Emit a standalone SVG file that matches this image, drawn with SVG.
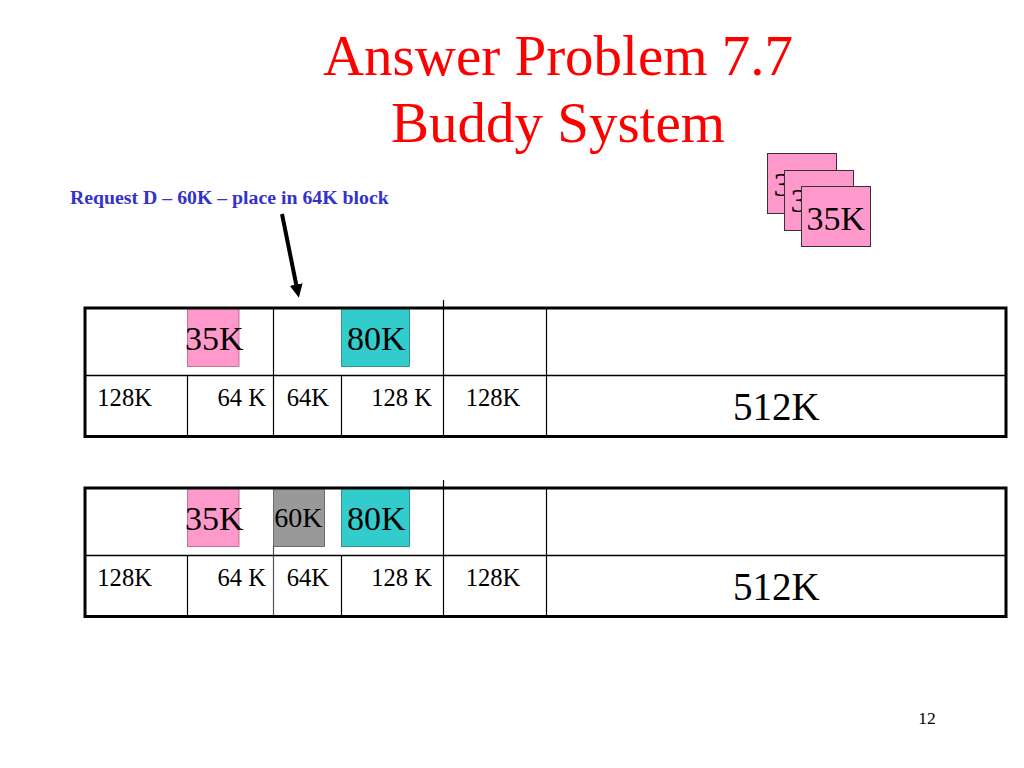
<svg xmlns="http://www.w3.org/2000/svg" width="1024" height="768" viewBox="0 0 1024 768">
  <style>
    text { font-family: "Liberation Serif", "Times New Roman", serif; fill: #000; }
    .title { font-size: 57px; fill: #FF0000; text-anchor: middle; }
    .req { font-size: 19.8px; font-weight: bold; fill: #3333CC; }
    .lbl { font-size: 24.6px; }
    .big { font-size: 39px; text-anchor: middle; }
    .blk { font-size: 34px; }
    .small { font-size: 28px; }
    .pg { font-size: 17.5px; }
    .end { text-anchor: end; }
    .pink { fill: #FF99CC; stroke: #B0607A; stroke-width: 0.8; }
    .teal { fill: #33CCCC; stroke: #207F7F; stroke-width: 0.8; }
    .gray { fill: #999999; stroke: #555; stroke-width: 0.8; }
    .stack { fill: #FF99CC; stroke: #333; stroke-width: 1; }
    .outer { fill: none; stroke: #000; stroke-width: 3; }
    .grid { stroke: #000; stroke-width: 1.2; fill: none; }
    .mid { stroke: #000; stroke-width: 1.6; }
  </style>
  <defs>
    <marker id="head" markerUnits="userSpaceOnUse" markerWidth="14" markerHeight="14" refX="0.5" refY="7" orient="auto">
      <path d="M0,0.5 L13.5,7 L0,13.5 z" fill="#000"/>
    </marker>
  </defs>

  <rect width="1024" height="768" fill="#fff"/>

  <g id="title">
    <text class="title" x="558" y="75">Answer Problem 7.7</text>
    <text class="title" x="558" y="141.7">Buddy System</text>
  </g>

  <g id="request-label">
    <text class="req" x="70" y="204">Request D – 60K – place in 64K block</text>
  </g>

  <g id="stack">
    <rect class="stack" x="767.5" y="153.5" width="69" height="60"/>
    <text class="blk" x="773.5" y="195.5">3</text>
    <rect class="stack" x="784.5" y="170.5" width="69" height="60"/>
    <text class="blk" x="790.5" y="212">3</text>
    <rect class="stack" x="801.5" y="186.5" width="69" height="60"/>
    <text class="blk" x="806.5" y="230">35K</text>
  </g>

  <g id="table1">
    <rect class="pink" x="187.5" y="308.5" width="51.5" height="58"/>
    <rect class="teal" x="341.5" y="308.5" width="68" height="58"/>
    <line class="grid" x1="443.5" y1="300" x2="443.5" y2="437"/>
    <line class="grid" x1="187.5" y1="375" x2="187.5" y2="437"/>
    <line class="grid" x1="273.5" y1="307" x2="273.5" y2="437"/>
    <line class="grid" x1="341.5" y1="375" x2="341.5" y2="437"/>
    <line class="grid" x1="546.5" y1="307" x2="546.5" y2="437"/>
    <line class="mid" x1="84" y1="375.5" x2="1007" y2="375.5"/>
    <rect class="outer" x="85" y="308" width="921" height="128.5"/>
    <text class="blk" x="185" y="350">35K</text>
    <text class="blk" x="347" y="350">80K</text>
    <text class="lbl" x="97.3" y="405.7">128K</text>
    <text class="lbl end" x="266" y="405.7">64 K</text>
    <text class="lbl" x="286.7" y="405.7">64K</text>
    <text class="lbl end" x="432" y="405.7">128 K</text>
    <text class="lbl" x="465.7" y="405.7">128K</text>
    <text class="big" x="776.3" y="420">512K</text>
  </g>

  <g id="table2">
    <rect class="pink" x="187.5" y="488.5" width="51.5" height="58"/>
    <rect class="gray" x="273.5" y="488.5" width="51" height="58"/>
    <rect class="teal" x="341.5" y="488.5" width="68" height="58"/>
    <line class="grid" x1="443.5" y1="480" x2="443.5" y2="617"/>
    <line class="grid" x1="187.5" y1="555" x2="187.5" y2="617"/>
    <line class="grid" x1="273.5" y1="546" x2="273.5" y2="617" style="stroke:#555"/>
    <line class="grid" x1="341.5" y1="555" x2="341.5" y2="617"/>
    <line class="grid" x1="546.5" y1="487" x2="546.5" y2="617"/>
    <line class="mid" x1="84" y1="555.5" x2="1007" y2="555.5"/>
    <rect class="outer" x="85" y="488" width="921" height="128.5"/>
    <text class="blk" x="185" y="530">35K</text>
    <text class="small" x="274.3" y="526.7">60K</text>
    <text class="blk" x="347" y="530">80K</text>
    <text class="lbl" x="97.3" y="585.7">128K</text>
    <text class="lbl end" x="266" y="585.7">64 K</text>
    <text class="lbl" x="286.7" y="585.7">64K</text>
    <text class="lbl end" x="432" y="585.7">128 K</text>
    <text class="lbl" x="465.7" y="585.7">128K</text>
    <text class="big" x="776.3" y="600">512K</text>
  </g>

  <g id="connectors">
    <line x1="282" y1="214" x2="296.3" y2="285" stroke="#000" stroke-width="4" marker-end="url(#head)"/>
  </g>

  <g id="page-number">
    <text class="pg" x="918.3" y="724.3">12</text>
  </g>
</svg>
